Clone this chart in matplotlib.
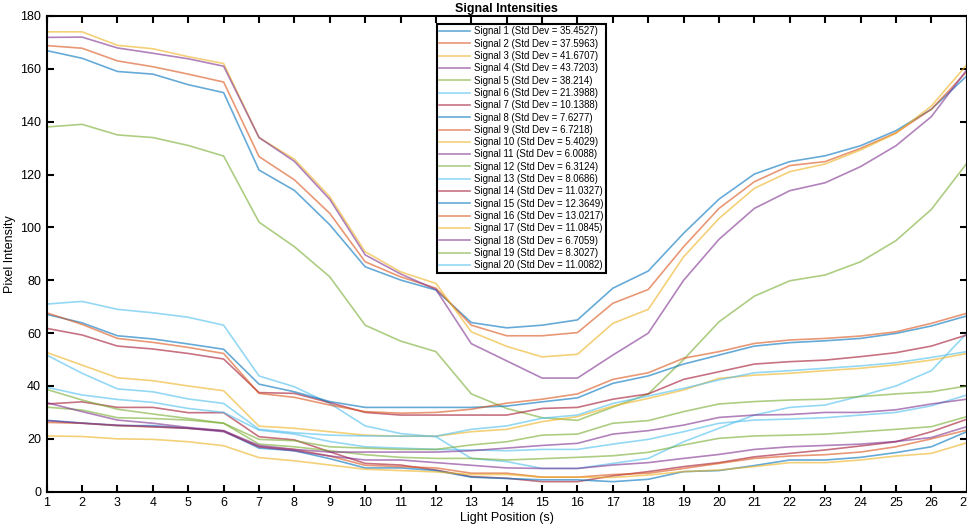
import matplotlib.pyplot as plt

plt.rcParams['font.family'] = ['Liberation Sans', 'DejaVu Sans']

# Light positions 1..27
positions = list(range(1, 28))

# Pixel intensities
signal_1 = [166.9, 164, 159, 158, 154, 151, 121.7, 114, 101, 85.1, 80.1, 76.3, 64, 62, 63, 65, 77, 83.5, 97.8, 110.7, 120.2, 124.9, 127.1, 130.9, 136.6, 144.7, 157.3]
signal_2 = [168.8, 167.8, 163, 160.8, 158, 155, 126.8, 118, 105.3, 87, 81.3, 77, 63, 59, 59, 60.2, 71.3, 76.5, 92.7, 107.2, 117.3, 123.4, 124.9, 129.9, 135.8, 144.7, 158.9]
signal_3 = [174, 174, 168.9, 167.6, 164.6, 162, 134, 125.8, 111.6, 90.8, 83.2, 78.8, 60.5, 55, 51, 52, 63.7, 69, 88.9, 103.4, 114.8, 121.1, 124, 129.3, 135.6, 145.9, 161.5]
signal_4 = [171.9, 172, 167.9, 165.9, 163.8, 161, 134, 125, 110.6, 89.6, 82.4, 76.5, 56, 49.5, 43, 43, 51.7, 60, 80, 95.5, 107.2, 113.9, 116.9, 123, 130.9, 141.9, 159.6]
signal_5 = [138, 139, 135, 134, 131, 127, 102, 92.7, 81.3, 63, 57, 53, 37, 31.5, 28, 27, 32, 37, 50, 64.3, 74, 79.8, 82, 87, 95, 106.8, 124.2]
signal_6 = [71, 72, 69, 67.7, 66, 63, 43.8, 39.7, 33.4, 24.9, 22, 20.8, 12.6, 11.4, 8.8, 8.8, 10.7, 12.6, 18.9, 24, 29, 31.9, 32.8, 36.2, 40, 45.8, 59.9]
signal_7 = [33.2, 34, 31.9, 31.9, 29.9, 29.9, 20.8, 19.6, 15.1, 10.7, 10.1, 8.2, 5.7, 5.1, 3.8, 3.8, 6, 7.6, 9.5, 11, 13.2, 14.5, 15.8, 17.3, 18.9, 22.7, 27.4]
signal_8 = [27, 26, 25, 25, 24, 23, 16.5, 15.5, 12.5, 9, 9, 8, 5.5, 5, 4.5, 4.5, 3.8, 4.7, 7.6, 8, 9.9, 12, 12, 13, 14.8, 17, 22.7]
signal_9 = [26.2, 25.9, 25, 24.5, 24, 23, 17, 16, 13.5, 10, 9.5, 9, 7, 7, 5.5, 5.5, 6.5, 7, 8.8, 10.7, 12.6, 13.5, 14, 15, 17, 20, 23.3]
signal_10 = [21.1, 20.9, 20, 19.8, 18.9, 17.4, 12.9, 11.7, 10.1, 8.5, 8, 7.5, 6.5, 6.5, 5.5, 5.5, 5.4, 6.3, 7.6, 8.2, 9.5, 11, 11, 12, 13.5, 14.5, 18.5]
signal_11 = [26.9, 25.9, 25.2, 24.6, 24, 22.7, 17, 15.5, 13.5, 12, 12, 11, 10, 9, 8.8, 8.8, 10.1, 11, 12.6, 14.1, 16, 17, 17.5, 18, 19, 20.5, 24.6]
signal_12 = [32, 30.9, 28, 27.7, 27.1, 25.9, 18, 17, 15.5, 14, 13, 12.6, 12.6, 12, 12.5, 13, 13.6, 14.9, 17.7, 20.2, 21.1, 21.4, 21.8, 22.7, 23.6, 24.6, 28.4]
signal_13 = [39.5, 36.6, 34.9, 33.8, 31.5, 30, 23.3, 21.8, 19, 17, 16.5, 16, 15.8, 15.5, 16, 16, 18, 19.8, 22.7, 25.9, 27.1, 27.5, 28, 29, 30, 32.5, 36.6]
signal_14 = [61.8, 59.3, 55.1, 54, 52.3, 50.2, 37.5, 37.2, 33.7, 30, 29, 29, 29, 29, 31.5, 31.9, 35, 37, 42.5, 45.4, 48.3, 49.2, 49.8, 51.1, 52.6, 55.1, 59.3]
signal_15 = [67.1, 63.9, 59, 57.8, 55.9, 53.9, 40.7, 37.8, 34.1, 31.9, 31.9, 31.9, 31.9, 32.4, 34, 35.5, 41, 43.8, 48.3, 51.7, 55.1, 56.4, 57.1, 58, 59.9, 62.7, 66.5]
signal_16 = [67.7, 63.3, 58, 56.5, 54.6, 52.3, 37.2, 35.7, 32.8, 30.3, 29.7, 30, 31.2, 33.5, 35, 37, 42.5, 45, 50.5, 53, 56.1, 57.4, 58, 58.9, 60.5, 63.7, 67.5]
signal_17 = [52.7, 47.9, 43.1, 42, 40, 38.2, 24.8, 24, 22.7, 21.4, 21, 21, 22.7, 23.6, 26.5, 28.4, 32.4, 35.3, 38.5, 42.9, 44.1, 44.8, 45.8, 46.7, 48, 49.8, 52.3]
signal_18 = [33.7, 30.3, 27.1, 25.9, 24.3, 23.1, 17.5, 16, 15, 15, 15, 15, 15.5, 16.5, 17.5, 18.3, 21.8, 23.1, 25.2, 28.1, 29, 29.2, 30, 30, 31, 33.2, 35]
signal_19 = [38.7, 34.7, 31.2, 29.4, 27.7, 25.9, 19.8, 19.3, 17, 16.5, 16, 16, 17.7, 18.9, 21.4, 21.8, 25.9, 26.9, 30.3, 33.2, 34.1, 34.7, 35, 36, 37, 37.8, 40]
signal_20 = [51.7, 44.8, 38.9, 37.8, 35.1, 33.4, 23.6, 22.3, 21.4, 21.1, 21, 21, 23.6, 24.9, 27.8, 29, 33.4, 36.2, 39.1, 42.3, 45, 45.8, 46.7, 47.6, 48.8, 50.8, 53]

signals = [signal_1, signal_2, signal_3, signal_4, signal_5, signal_6, signal_7,
           signal_8, signal_9, signal_10, signal_11, signal_12, signal_13, signal_14,
           signal_15, signal_16, signal_17, signal_18, signal_19, signal_20]

# Std dev values as printed in the legend
std_devs = ['35.4527', '37.5963', '41.6707', '43.7203', '38.214', '21.3988', '10.1388',
            '7.6277', '6.7218', '5.4029', '6.0088', '6.3124', '8.0686', '11.0327',
            '12.3649', '13.0217', '11.0845', '6.7059', '8.3027', '11.0082']

# MATLAB default colour order
colors = ['#0072BD', '#D95319', '#EDB120', '#7E2F8E', '#77AC30', '#4DBEEE', '#A2142F']

fig = plt.figure(figsize=(9.67, 5.29), dpi=100)
ax = fig.add_axes([0.0483, 0.0705, 0.9514, 0.8993])

for i, values in enumerate(signals):
    ax.plot(positions, values, color=colors[i % 7], alpha=0.6, linewidth=1.2,
            label=f"Signal {i + 1} (Std Dev = {std_devs[i]})")

ax.set_xlim(1, 27)
ax.set_ylim(0, 180)
ax.set_xticks(positions)
ax.set_yticks(range(0, 181, 20))
ax.tick_params(direction='in', top=True, right=True, length=5, width=1.5,
               labelsize=9, pad=4)
for spine in ax.spines.values():
    spine.set_linewidth(1.5)
    spine.set_color('black')

ax.set_title("Signal Intensities", fontsize=9, fontweight='bold', pad=3)
ax.set_xlabel("Light Position (s)", fontsize=9, labelpad=2)
ax.set_ylabel("Pixel Intensity", fontsize=9, labelpad=3)

# legend sits at the top, MATLAB 'north' style
leg = ax.legend(loc='upper center', bbox_to_anchor=(0.516, 0.994), fontsize=6.9,
                labelspacing=0.24, handlelength=3.2, handletextpad=0.4,
                borderpad=0.3, fancybox=False, framealpha=1)
leg.get_frame().set_edgecolor('black')
leg.get_frame().set_linewidth(1.5)

fig.savefig("out.png", dpi=100)
